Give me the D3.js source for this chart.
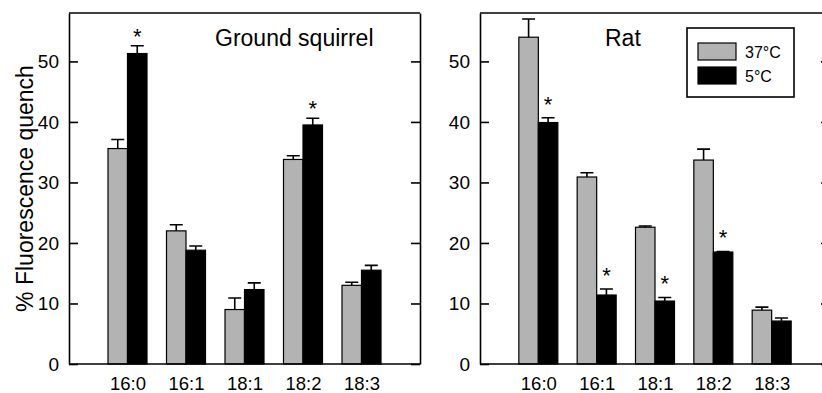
<!DOCTYPE html>
<html>
<head>
<meta charset="utf-8">
<script src="https://cdn.jsdelivr.net/npm/d3@7"></script>
<style>
  body { margin: 0; background: #fff; }
  svg { display: block; font-family: "Liberation Sans", Arial, Helvetica, sans-serif; }
  .axis path, .axis line { stroke: #000; stroke-width: 1.6px; }
  .axis text { font-size: 19px; fill: #000; }
</style>
</head>
<body>
<svg id="chart" width="822" height="393"></svg>
<script>
// fatty acid categories on the x axis
var categories = ["16:0", "16:1", "18:1", "18:2", "18:3"];
var seriesNames = ["37°C", "5°C"];
var yTicks = [0, 10, 20, 30, 40, 50];

// ground squirrel, mean and error (sem)
var squirrelWarm = [35.6, 22.0, 9.0, 33.8, 13.0];
var squirrelWarmErr = [1.5, 1.0, 1.9, 0.6, 0.5];
var squirrelCold = [51.3, 18.8, 12.3, 39.5, 15.5];
var squirrelColdErr = [1.3, 0.7, 1.1, 1.1, 0.8];
var squirrelStars = [true, false, false, true, false];

// rat
var ratWarm = [54.0, 30.9, 22.6, 33.7, 8.9];
var ratWarmErr = [3.0, 0.7, 0.2, 1.8, 0.5];
var ratCold = [39.9, 11.4, 10.4, 18.5, 7.1];
var ratColdErr = [0.8, 1.0, 0.6, 0.1, 0.5];
var ratStars = [true, true, true, true, false];

var colors = { "37°C": "#b3b3b3", "5°C": "#000" };

var svg = d3.select("#chart");
var plotTop = 13, plotBottom = 364;

var y = d3.scaleLinear().domain([0, 58]).range([plotBottom, plotTop]);

// one panel = one small bar chart
function drawPanel(left, width, title, titleX, warm, warmErr, cold, coldErr, stars, starGap) {
  var g = svg.append("g").attr("transform", "translate(" + left + ",0)");

  var x = d3.scalePoint().domain(categories).range([0, width]).padding(1);
  var sub = d3.scaleBand().domain(seriesNames).range([-19.5, 19.5]);

  var rows = [];
  categories.forEach(function (c, i) {
    rows.push({ cat: c, s: "37°C", v: warm[i], e: warmErr[i], star: false });
    rows.push({ cat: c, s: "5°C", v: cold[i], e: coldErr[i], star: stars[i] });
  });

  // error bars first so the bar outline sits over them
  var cap = 6.5;
  g.selectAll(".err").data(rows).enter().append("path")
    .attr("d", function (d) {
      var cx = x(d.cat) + sub(d.s) + sub.bandwidth() / 2;
      var y0 = y(d.v), y1 = y(d.v + d.e);
      return "M" + cx + "," + y0 + "V" + y1 + "M" + (cx - cap) + "," + y1 + "H" + (cx + cap);
    })
    .attr("stroke", "#000").attr("stroke-width", 1.6).attr("fill", "none");

  g.selectAll(".bar").data(rows).enter().append("rect")
    .attr("x", function (d) { return x(d.cat) + sub(d.s); })
    .attr("width", sub.bandwidth())
    .attr("y", function (d) { return y(d.v); })
    .attr("height", function (d) { return y(0) - y(d.v); })
    .attr("fill", function (d) { return colors[d.s]; })
    .attr("stroke", "#000").attr("stroke-width", 1.2);

  g.selectAll(".star").data(rows.filter(function (d) { return d.star; })).enter().append("text")
    .attr("x", function (d) { return x(d.cat) + sub(d.s) + sub.bandwidth() / 2; })
    .attr("y", function (d) { return y(d.v + d.e) - starGap; })
    .attr("text-anchor", "middle")
    .style("font-size", "22px")
    .text("*");

  // axes: ticks point inward, right one has no labels
  g.append("g").attr("class", "axis")
    .call(d3.axisLeft(y).tickValues(yTicks).tickSize(-9).tickPadding(10).tickSizeOuter(0));
  g.append("g").attr("class", "axis")
    .attr("transform", "translate(" + width + ",0)")
    .call(d3.axisRight(y).tickValues(yTicks).tickSize(-9).tickFormat("").tickSizeOuter(0));
  g.append("line").attr("x1", 0).attr("x2", width).attr("y1", plotTop).attr("y2", plotTop)
    .attr("stroke", "#000").attr("stroke-width", 1.6);
  var xa = g.append("g").attr("class", "axis")
    .attr("transform", "translate(0," + plotBottom + ")")
    .call(d3.axisBottom(x).tickSize(0).tickPadding(13));
  xa.select(".domain").attr("d", "M0,0H" + width);
  xa.selectAll("text").attr("dy", "0.71em").style("font-size", "18.5px");

  g.append("text")
    .attr("x", titleX).attr("y", 46)
    .style("font-size", "23px")
    .text(title);

  return g;
}

drawPanel(69, 351, "Ground squirrel", 146, squirrelWarm, squirrelWarmErr, squirrelCold, squirrelColdErr, squirrelStars, 2);
var rat = drawPanel(480, 350, "Rat", 125, ratWarm, ratWarmErr, ratCold, ratColdErr, ratStars, 6);

// y axis label
svg.append("text")
  .attr("transform", "translate(33," + (plotTop + plotBottom) / 2 + ")rotate(-90)")
  .attr("text-anchor", "middle")
  .style("font-size", "23px")
  .text("% Fluorescence quench");

// legend inside the rat panel
var legend = rat.append("g").attr("transform", "translate(207,28)");
legend.append("rect").attr("width", 107).attr("height", 69)
  .attr("fill", "#fff").attr("stroke", "#000").attr("stroke-width", 1.6);
var item = legend.selectAll(".item").data(seriesNames).enter().append("g")
  .attr("transform", function (d, i) { return "translate(11," + (15 + i * 24) + ")"; });
item.append("rect").attr("width", 38).attr("height", 17)
  .attr("fill", function (d) { return colors[d]; })
  .attr("stroke", "#000").attr("stroke-width", 1.2);
item.append("text").attr("x", 47).attr("y", 15)
  .style("font-size", "16px")
  .text(function (d) { return d; });
</script>
</body>
</html>
